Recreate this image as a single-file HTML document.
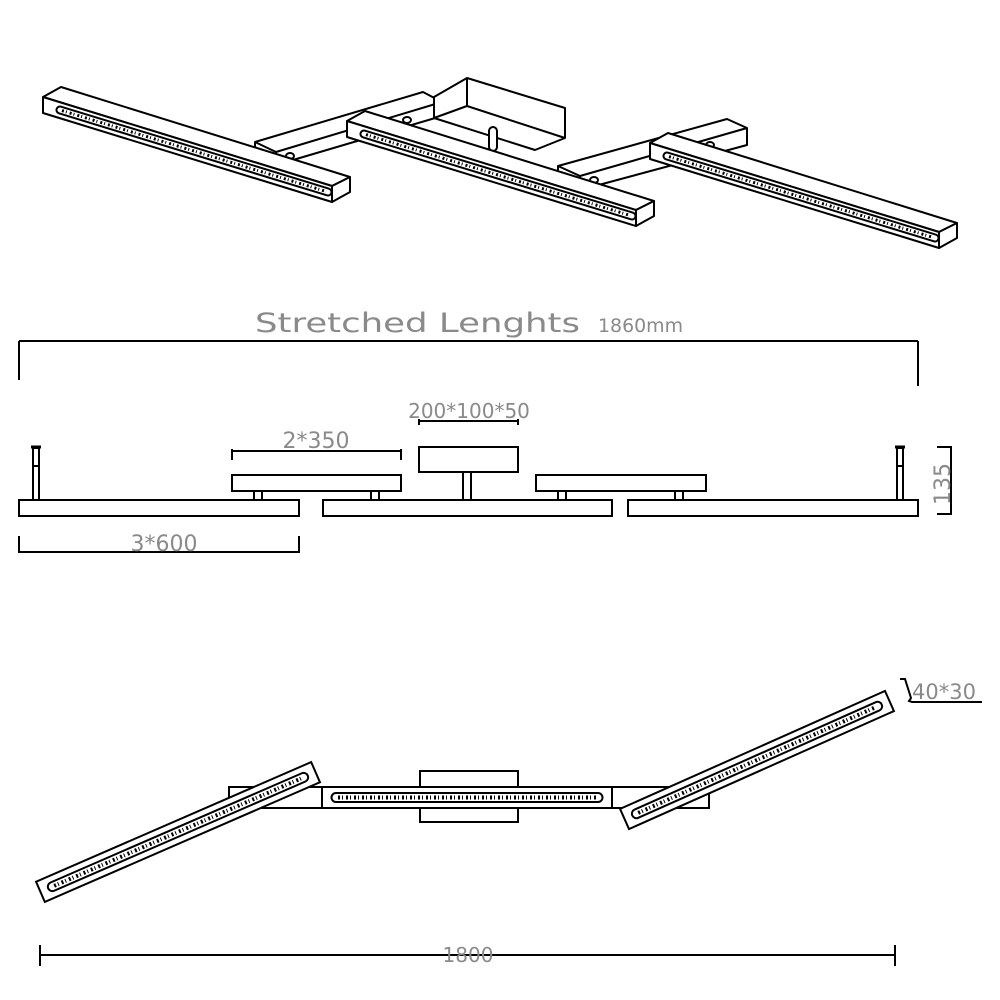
<!DOCTYPE html>
<html><head><meta charset="utf-8"><style>
html,body{margin:0;padding:0;background:#fff;}
svg{display:block;}
text{font-family:"DejaVu Sans","Liberation Sans",sans-serif;fill:#8a8a8a;}
</style></head><body>
<svg width="1000" height="1000" viewBox="0 0 1000 1000" xmlns="http://www.w3.org/2000/svg">
<defs>
<g id="bar">
  <polygon points="43,97 61,87 350,177 332,186" fill="#fff" stroke="#000" stroke-width="2" stroke-linejoin="round"/>
  <polygon points="43,97 332,186 332,202 43,113" fill="#fff" stroke="#000" stroke-width="2" stroke-linejoin="round"/>
  <polygon points="332,186 350,177 350,192 332,202" fill="#fff" stroke="#000" stroke-width="2" stroke-linejoin="round"/>
  <line x1="60" y1="110" x2="328" y2="192" stroke="#000" stroke-width="9" stroke-linecap="round"/>
  <line x1="60" y1="110" x2="328" y2="192" stroke="#fff" stroke-width="5" stroke-linecap="round"/>
  <line x1="62" y1="110.6" x2="326" y2="191.4" stroke="#000" stroke-width="3" stroke-dasharray="2 2 1 3"/>
</g>
<g id="slotH">
  <line x1="0" y1="0" x2="1" y2="0" stroke="#000"/>
</g>
</defs>

<!-- TOP PERSPECTIVE -->
<!-- left arm -->
<polygon points="255,142 423,92 442,102 442,116 276,165 255,152" fill="#fff" stroke="#000" stroke-width="2" stroke-linejoin="round"/>
<line x1="255" y1="142" x2="276" y2="152" stroke="#000" stroke-width="2"/>
<line x1="276" y1="152" x2="442" y2="102" stroke="#000" stroke-width="2"/>
<line x1="276" y1="152" x2="276" y2="165" stroke="#000" stroke-width="2"/>
<!-- right arm -->
<polygon points="558,166 727,119 747,128 747,145 580,190 558,176" fill="#fff" stroke="#000" stroke-width="2" stroke-linejoin="round"/>
<line x1="558" y1="166" x2="580" y2="176" stroke="#000" stroke-width="2"/>
<line x1="580" y1="176" x2="747" y2="128" stroke="#000" stroke-width="2"/>
<line x1="580" y1="176" x2="580" y2="190" stroke="#000" stroke-width="2"/>
<!-- center box -->
<polygon points="434,97 467,78 565,108 565,138 535,150 434,118" fill="#fff" stroke="#000" stroke-width="2" stroke-linejoin="round"/>
<line x1="467" y1="78" x2="467" y2="106" stroke="#000" stroke-width="2"/>
<line x1="467" y1="106" x2="565" y2="138" stroke="#000" stroke-width="2"/>
<line x1="467" y1="106" x2="434" y2="118" stroke="#000" stroke-width="2"/>
<rect x="489" y="127" width="8" height="24" rx="4" fill="#fff" stroke="#000" stroke-width="2"/>
<!-- small pins -->
<ellipse cx="290" cy="156" rx="4" ry="3" fill="#fff" stroke="#000" stroke-width="2"/>
<ellipse cx="407" cy="120" rx="4" ry="3" fill="#fff" stroke="#000" stroke-width="2"/>
<ellipse cx="594" cy="180" rx="4" ry="3" fill="#fff" stroke="#000" stroke-width="2"/>
<ellipse cx="710" cy="145" rx="4" ry="3" fill="#fff" stroke="#000" stroke-width="2"/>
<!-- bars -->
<use href="#bar"/>
<use href="#bar" transform="translate(304,24)"/>
<use href="#bar" transform="translate(607,46)"/>

<!-- SIDE VIEW -->
<text x="255" y="332" font-size="27" textLength="325" lengthAdjust="spacingAndGlyphs">Stretched Lenghts</text>
<text x="598" y="332" font-size="19" textLength="85" lengthAdjust="spacingAndGlyphs">1860mm</text>
<g stroke="#000" stroke-width="2" fill="none">
<line x1="19" y1="341" x2="918" y2="341"/>
<line x1="19" y1="341" x2="19" y2="380"/>
<line x1="918" y1="341" x2="918" y2="386"/>
<!-- bars -->
<rect x="19" y="500" width="280" height="16"/>
<rect x="323" y="500" width="289" height="16"/>
<rect x="628" y="500" width="290" height="16"/>
<rect x="232" y="475" width="169" height="16"/>
<rect x="536" y="475" width="170" height="16"/>
<rect x="254" y="491" width="8" height="9"/>
<rect x="371" y="491" width="8" height="9"/>
<rect x="558" y="491" width="8" height="9"/>
<rect x="675" y="491" width="8" height="9"/>
<rect x="419" y="447" width="99" height="25"/>
<rect x="463" y="472" width="8" height="28"/>
<rect x="33" y="448" width="6" height="52"/>
<line x1="31" y1="447" x2="41" y2="447" stroke-width="3"/>
<line x1="33" y1="466" x2="39" y2="466"/>
<rect x="897" y="448" width="6" height="52"/>
<line x1="895" y1="447" x2="905" y2="447" stroke-width="3"/>
<line x1="897" y1="466" x2="903" y2="466"/>
<!-- dims -->
<line x1="232" y1="451" x2="401" y2="451"/>
<line x1="232" y1="449" x2="232" y2="460"/>
<line x1="401" y1="449" x2="401" y2="460"/>
<line x1="419" y1="421" x2="518" y2="421"/>
<line x1="419" y1="419" x2="419" y2="425"/>
<line x1="518" y1="419" x2="518" y2="425"/>
<line x1="19" y1="552" x2="299" y2="552"/>
<line x1="19" y1="536" x2="19" y2="553"/>
<line x1="299" y1="536" x2="299" y2="553"/>
<line x1="951" y1="447" x2="951" y2="514"/>
<line x1="937" y1="447" x2="952" y2="447"/>
<line x1="937" y1="514" x2="952" y2="514"/>
</g>
<text x="316" y="448" font-size="22" text-anchor="middle">2*350</text>
<text x="469" y="418" font-size="20" text-anchor="middle">200*100*50</text>
<text x="164" y="551" font-size="22" text-anchor="middle">3*600</text>
<text x="0" y="0" font-size="22" text-anchor="middle" transform="translate(950,484) rotate(-90)">135</text>

<!-- BOTTOM VIEW -->
<g stroke="#000" stroke-width="2" fill="#fff">
<rect x="229" y="787" width="480" height="21"/>
<rect x="420" y="771" width="98" height="51"/>
<rect x="322" y="787" width="290" height="21"/>
<line x1="612" y1="787" x2="612" y2="808"/>
<rect x="-150" y="-11" width="300" height="22" transform="translate(178,832) rotate(-23.5)"/>
<rect x="-145" y="-11" width="290" height="22" transform="translate(757,760) rotate(-24)"/>
</g>
<g stroke-linecap="round">
<line x1="336" y1="797.5" x2="598" y2="797.5" stroke="#000" stroke-width="11"/>
<line x1="336" y1="797.5" x2="598" y2="797.5" stroke="#fff" stroke-width="7"/>
<line x1="338" y1="797.5" x2="596" y2="797.5" stroke="#000" stroke-width="4" stroke-dasharray="2 2 1 3" stroke-linecap="butt"/>
<g transform="translate(178,832) rotate(-23.5)">
<line x1="-137" y1="0" x2="137" y2="0" stroke="#000" stroke-width="11"/>
<line x1="-137" y1="0" x2="137" y2="0" stroke="#fff" stroke-width="7"/>
<line x1="-135" y1="0" x2="135" y2="0" stroke="#000" stroke-width="4" stroke-dasharray="2 2 1 3" stroke-linecap="butt"/>
</g>
<g transform="translate(757,760) rotate(-24)">
<line x1="-132" y1="0" x2="132" y2="0" stroke="#000" stroke-width="11"/>
<line x1="-132" y1="0" x2="132" y2="0" stroke="#fff" stroke-width="7"/>
<line x1="-130" y1="0" x2="130" y2="0" stroke="#000" stroke-width="4" stroke-dasharray="2 2 1 3" stroke-linecap="butt"/>
</g>
</g>
<g stroke="#000" stroke-width="2" fill="none">
<polyline points="900,679 905,679 911,698 909,701 912,702 982,702"/>
<line x1="40" y1="955" x2="895" y2="955"/>
<line x1="40" y1="945" x2="40" y2="966"/>
<line x1="895" y1="945" x2="895" y2="966"/>
</g>
<text x="912" y="699" font-size="21">40*30</text>
<text x="468" y="962" font-size="20" text-anchor="middle">1800</text>
</svg>
</body></html>
